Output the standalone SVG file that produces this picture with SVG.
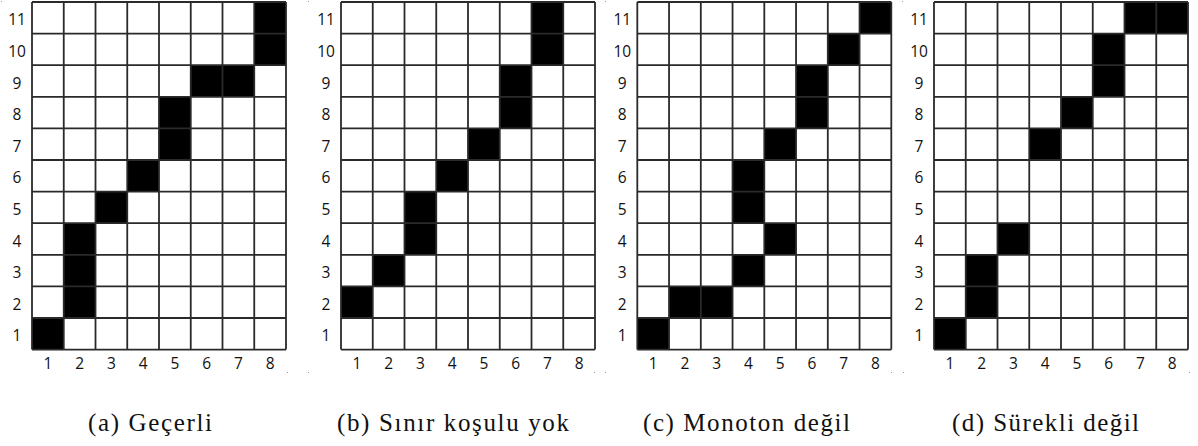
<svg xmlns="http://www.w3.org/2000/svg" xmlns:xlink="http://www.w3.org/1999/xlink" width="1198" height="446" viewBox="0 0 1198 446">
<style>
.grid{fill:none;stroke:#2a2a2a;stroke-width:1.8}
.f{fill:#000}
.lbl{font-family:"Open Sans","Noto Sans",sans-serif;font-size:15.5px;fill:#111;text-anchor:middle}
.cap{font-family:"Liberation Serif","Times New Roman",serif;font-size:25px;fill:#111}
.dot{fill:#999}
</style>
<defs>
<path id="gridlines" class="grid" d="M0 2V349.6M31.75 2V349.6M63.5 2V349.6M95.25 2V349.6M127 2V349.6M158.75 2V349.6M190.5 2V349.6M222.25 2V349.6M254 2V349.6M0 2H254M0 33.6H254M0 65.2H254M0 96.8H254M0 128.4H254M0 160H254M0 191.6H254M0 223.2H254M0 254.8H254M0 286.4H254M0 318H254M0 349.6H254"/>
<g id="labels" class="lbl">
<text x="-15" y="25.3">11</text>
<text x="-15" y="56.9">10</text>
<text x="-15" y="88.5">9</text>
<text x="-15" y="120.1">8</text>
<text x="-15" y="151.7">7</text>
<text x="-15" y="183.3">6</text>
<text x="-15" y="214.9">5</text>
<text x="-15" y="246.5">4</text>
<text x="-15" y="278.1">3</text>
<text x="-15" y="309.7">2</text>
<text x="-15" y="341.3">1</text>
<text x="15.875" y="369">1</text>
<text x="47.625" y="369">2</text>
<text x="79.375" y="369">3</text>
<text x="111.125" y="369">4</text>
<text x="142.875" y="369">5</text>
<text x="174.625" y="369">6</text>
<text x="206.375" y="369">7</text>
<text x="238.125" y="369">8</text>
</g>
</defs>
<rect width="1198" height="446" fill="#fff"/>

<g id="panel-a" transform="translate(32,0)">
<rect class="f" x="0" y="318" width="31.75" height="31.6"/>
<rect class="f" x="31.75" y="223.2" width="31.75" height="94.8"/>
<rect class="f" x="63.5" y="191.6" width="31.75" height="31.6"/>
<rect class="f" x="95.25" y="160" width="31.75" height="31.6"/>
<rect class="f" x="127" y="96.8" width="31.75" height="63.2"/>
<rect class="f" x="158.75" y="65.2" width="63.5" height="31.6"/>
<rect class="f" x="222.25" y="2" width="31.75" height="63.2"/>
<use xlink:href="#gridlines"/>
<use xlink:href="#labels"/>
</g>

<g id="panel-b" transform="translate(341,0)">
<rect class="f" x="0" y="286.4" width="31.75" height="31.6"/>
<rect class="f" x="31.75" y="254.8" width="31.75" height="31.6"/>
<rect class="f" x="63.5" y="191.6" width="31.75" height="63.2"/>
<rect class="f" x="95.25" y="160" width="31.75" height="31.6"/>
<rect class="f" x="127" y="128.4" width="31.75" height="31.6"/>
<rect class="f" x="158.75" y="65.2" width="31.75" height="63.2"/>
<rect class="f" x="190.5" y="2" width="31.75" height="63.2"/>
<use xlink:href="#gridlines"/>
<use xlink:href="#labels"/>
</g>

<g id="panel-c" transform="translate(637.3,0)">
<rect class="f" x="0" y="318" width="31.75" height="31.6"/>
<rect class="f" x="31.75" y="286.4" width="63.5" height="31.6"/>
<rect class="f" x="95.25" y="254.8" width="31.75" height="31.6"/>
<rect class="f" x="127" y="223.2" width="31.75" height="31.6"/>
<rect class="f" x="95.25" y="160" width="31.75" height="63.2"/>
<rect class="f" x="127" y="128.4" width="31.75" height="31.6"/>
<rect class="f" x="158.75" y="65.2" width="31.75" height="63.2"/>
<rect class="f" x="190.5" y="33.6" width="31.75" height="31.6"/>
<rect class="f" x="222.25" y="2" width="31.75" height="31.6"/>
<use xlink:href="#gridlines"/>
<use xlink:href="#labels"/>
</g>

<g id="panel-d" transform="translate(934,0)">
<rect class="f" x="0" y="318" width="31.75" height="31.6"/>
<rect class="f" x="31.75" y="254.8" width="31.75" height="63.2"/>
<rect class="f" x="63.5" y="223.2" width="31.75" height="31.6"/>
<rect class="f" x="95.25" y="128.4" width="31.75" height="31.6"/>
<rect class="f" x="127" y="96.8" width="31.75" height="31.6"/>
<rect class="f" x="158.75" y="33.6" width="31.75" height="63.2"/>
<rect class="f" x="190.5" y="2" width="63.5" height="31.6"/>
<use xlink:href="#gridlines"/>
<use xlink:href="#labels"/>
</g>

<g id="dots">
<rect class="dot" x="1" y="1" width="1" height="1"/>
<rect class="dot" x="308" y="1" width="1" height="1"/>
<rect class="dot" x="605" y="1" width="1" height="1"/>
<rect class="dot" x="902" y="1" width="1" height="1"/>
<rect class="dot" x="287" y="372" width="1" height="1"/>
<rect class="dot" x="308" y="372" width="1" height="1"/>
<rect class="dot" x="594" y="372" width="1" height="1"/>
<rect class="dot" x="605" y="372" width="1" height="1"/>
<rect class="dot" x="891" y="372" width="1" height="1"/>
<rect class="dot" x="903" y="372" width="1" height="1"/>
<rect class="dot" x="1189" y="372" width="1" height="1"/>
</g>

<g id="captions" class="cap">
<text x="88" y="431" textLength="124" lengthAdjust="spacing">(a) Geçerli</text>
<text x="337" y="431" textLength="232" lengthAdjust="spacing">(b) Sınır koşulu yok</text>
<text x="643" y="431" textLength="207" lengthAdjust="spacing">(c) Monoton değil</text>
<text x="952" y="431" textLength="187" lengthAdjust="spacing">(d) Sürekli değil</text>
</g>
</svg>
